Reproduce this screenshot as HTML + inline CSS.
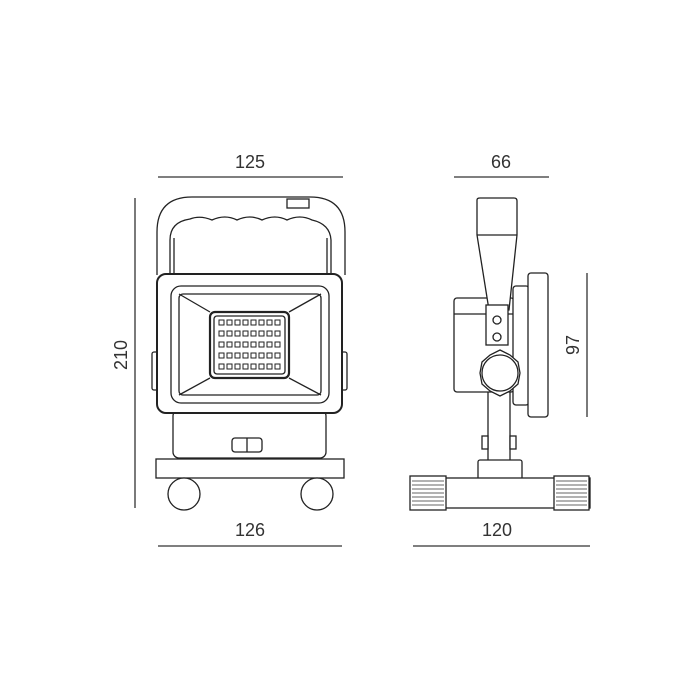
<!DOCTYPE html>
<html><head><meta charset="utf-8"><style>
html,body{margin:0;padding:0;background:#fff;width:700px;height:700px;overflow:hidden}
svg{display:block}
text{font-family:"Liberation Sans",sans-serif;font-size:18px;fill:#333}
</style></head><body>
<svg width="700" height="700" viewBox="0 0 700 700" xmlns="http://www.w3.org/2000/svg">
<g stroke="#333" stroke-width="1.3" fill="none">
<!-- dimension lines -->
<line x1="158" y1="177" x2="343" y2="177"/>
<line x1="454" y1="177" x2="549" y2="177"/>
<line x1="135" y1="198" x2="135" y2="508"/>
<line x1="587" y1="273" x2="587" y2="417"/>
<line x1="158" y1="546" x2="342" y2="546"/>
<line x1="413" y1="546" x2="590" y2="546"/>
</g>
<text x="250" y="168" text-anchor="middle">125</text>
<text x="501" y="168" text-anchor="middle">66</text>
<text x="250" y="536" text-anchor="middle">126</text>
<text x="497" y="536" text-anchor="middle">120</text>
<text transform="translate(127,355) rotate(-90)" text-anchor="middle">210</text>
<text transform="translate(579,345) rotate(-90)" text-anchor="middle">97</text>

<!-- FRONT VIEW -->
<g stroke="#222" stroke-width="1.3" fill="#fff">
<path d="M157 275 V232 Q157 197 192 197 H310 Q345 197 345 232 V275"/>
<path d="M170 275 V240 Q170 222 190 219 Q200 215 212 220 Q225 214 237 220 Q250 214 262 220 Q275 214 287 220 Q300 214 312 220 Q330 224 331 240 V275"/>
<line x1="174" y1="238" x2="174" y2="275"/><line x1="327" y1="238" x2="327" y2="275"/>
<rect x="287" y="199" width="22" height="9"/>
<rect x="152" y="352" width="8" height="38" rx="2"/>
<rect x="339" y="352" width="8" height="38" rx="2"/>
<rect x="173" y="410" width="153" height="48" rx="6"/>
<rect x="157" y="274" width="185" height="139" rx="9" stroke-width="2"/>
<rect x="171" y="286" width="158" height="117" rx="10"/>
<rect x="179" y="294" width="142" height="101" rx="4"/>
<line x1="179" y1="294" x2="210" y2="312"/><line x1="321" y1="294" x2="289" y2="312"/>
<line x1="179" y1="395" x2="210" y2="378"/><line x1="321" y1="395" x2="289" y2="378"/>
<rect x="210" y="312" width="79" height="66" rx="5" stroke-width="2.2"/>
<rect x="214" y="316" width="71" height="58" rx="3"/>
<rect x="232" y="438" width="30" height="14" rx="3"/>
<line x1="247" y1="438" x2="247" y2="452"/>
<rect x="156" y="459" width="188" height="19"/>
<circle cx="184" cy="494" r="16"/>
<circle cx="317" cy="494" r="16"/>
</g>
<g fill="none" stroke="#222" stroke-width="1">
<!-- LED grid -->
<g id="leds">
</g>
</g>
<g fill="#fff" stroke="#222" stroke-width="1.1">
<script>
</script>
</g>
<g fill="#fff" stroke="#222" stroke-width="1">
<rect x="219" y="320" width="5" height="5"/><rect x="227" y="320" width="5" height="5"/><rect x="235" y="320" width="5" height="5"/><rect x="243" y="320" width="5" height="5"/><rect x="251" y="320" width="5" height="5"/><rect x="259" y="320" width="5" height="5"/><rect x="267" y="320" width="5" height="5"/><rect x="275" y="320" width="5" height="5"/>
<rect x="219" y="331" width="5" height="5"/><rect x="227" y="331" width="5" height="5"/><rect x="235" y="331" width="5" height="5"/><rect x="243" y="331" width="5" height="5"/><rect x="251" y="331" width="5" height="5"/><rect x="259" y="331" width="5" height="5"/><rect x="267" y="331" width="5" height="5"/><rect x="275" y="331" width="5" height="5"/>
<rect x="219" y="342" width="5" height="5"/><rect x="227" y="342" width="5" height="5"/><rect x="235" y="342" width="5" height="5"/><rect x="243" y="342" width="5" height="5"/><rect x="251" y="342" width="5" height="5"/><rect x="259" y="342" width="5" height="5"/><rect x="267" y="342" width="5" height="5"/><rect x="275" y="342" width="5" height="5"/>
<rect x="219" y="353" width="5" height="5"/><rect x="227" y="353" width="5" height="5"/><rect x="235" y="353" width="5" height="5"/><rect x="243" y="353" width="5" height="5"/><rect x="251" y="353" width="5" height="5"/><rect x="259" y="353" width="5" height="5"/><rect x="267" y="353" width="5" height="5"/><rect x="275" y="353" width="5" height="5"/>
<rect x="219" y="364" width="5" height="5"/><rect x="227" y="364" width="5" height="5"/><rect x="235" y="364" width="5" height="5"/><rect x="243" y="364" width="5" height="5"/><rect x="251" y="364" width="5" height="5"/><rect x="259" y="364" width="5" height="5"/><rect x="267" y="364" width="5" height="5"/><rect x="275" y="364" width="5" height="5"/>
</g>

<!-- SIDE VIEW -->
<g stroke="#222" stroke-width="1.3" fill="#fff">
<rect x="488" y="390" width="22" height="72"/>
<rect x="482" y="436" width="6" height="13"/><rect x="510" y="436" width="6" height="13"/>
<rect x="478" y="460" width="44" height="20" rx="2"/>
<rect x="413" y="478" width="177" height="30"/>
<rect x="410" y="476" width="36" height="34"/>
<rect x="554" y="476" width="35" height="34"/>
<rect x="454" y="298" width="60" height="94" rx="3"/>
<line x1="454" y1="314" x2="514" y2="314"/>
<rect x="513" y="286" width="16" height="119" rx="3"/>
<rect x="528" y="273" width="20" height="144" rx="3"/>
<path d="M477 200 Q477 198 480 198 H514 Q517 198 517 201 V235 L509 310 H489 L477 235 Z"/>
<line x1="477" y1="235" x2="517" y2="235"/>
<rect x="486" y="305" width="22" height="40"/>
<circle cx="497" cy="320" r="4"/><circle cx="497" cy="337" r="4"/>
<path d="M500 350 L510 355 L518 362 L520 373 L518 384 L510 391 L500 396 L490 391 L482 384 L480 373 L482 362 L490 355 Z"/>
<circle cx="500" cy="373" r="18"/>
</g>
<g stroke="#333" stroke-width="0.8">
<path d="M412 481H444M412 485H444M412 489H444M412 493H444M412 497H444M412 501H444M412 505H444"/>
<path d="M556 481H587M556 485H587M556 489H587M556 493H587M556 497H587M556 501H587M556 505H587"/>
</g>
</svg>
</body></html>
